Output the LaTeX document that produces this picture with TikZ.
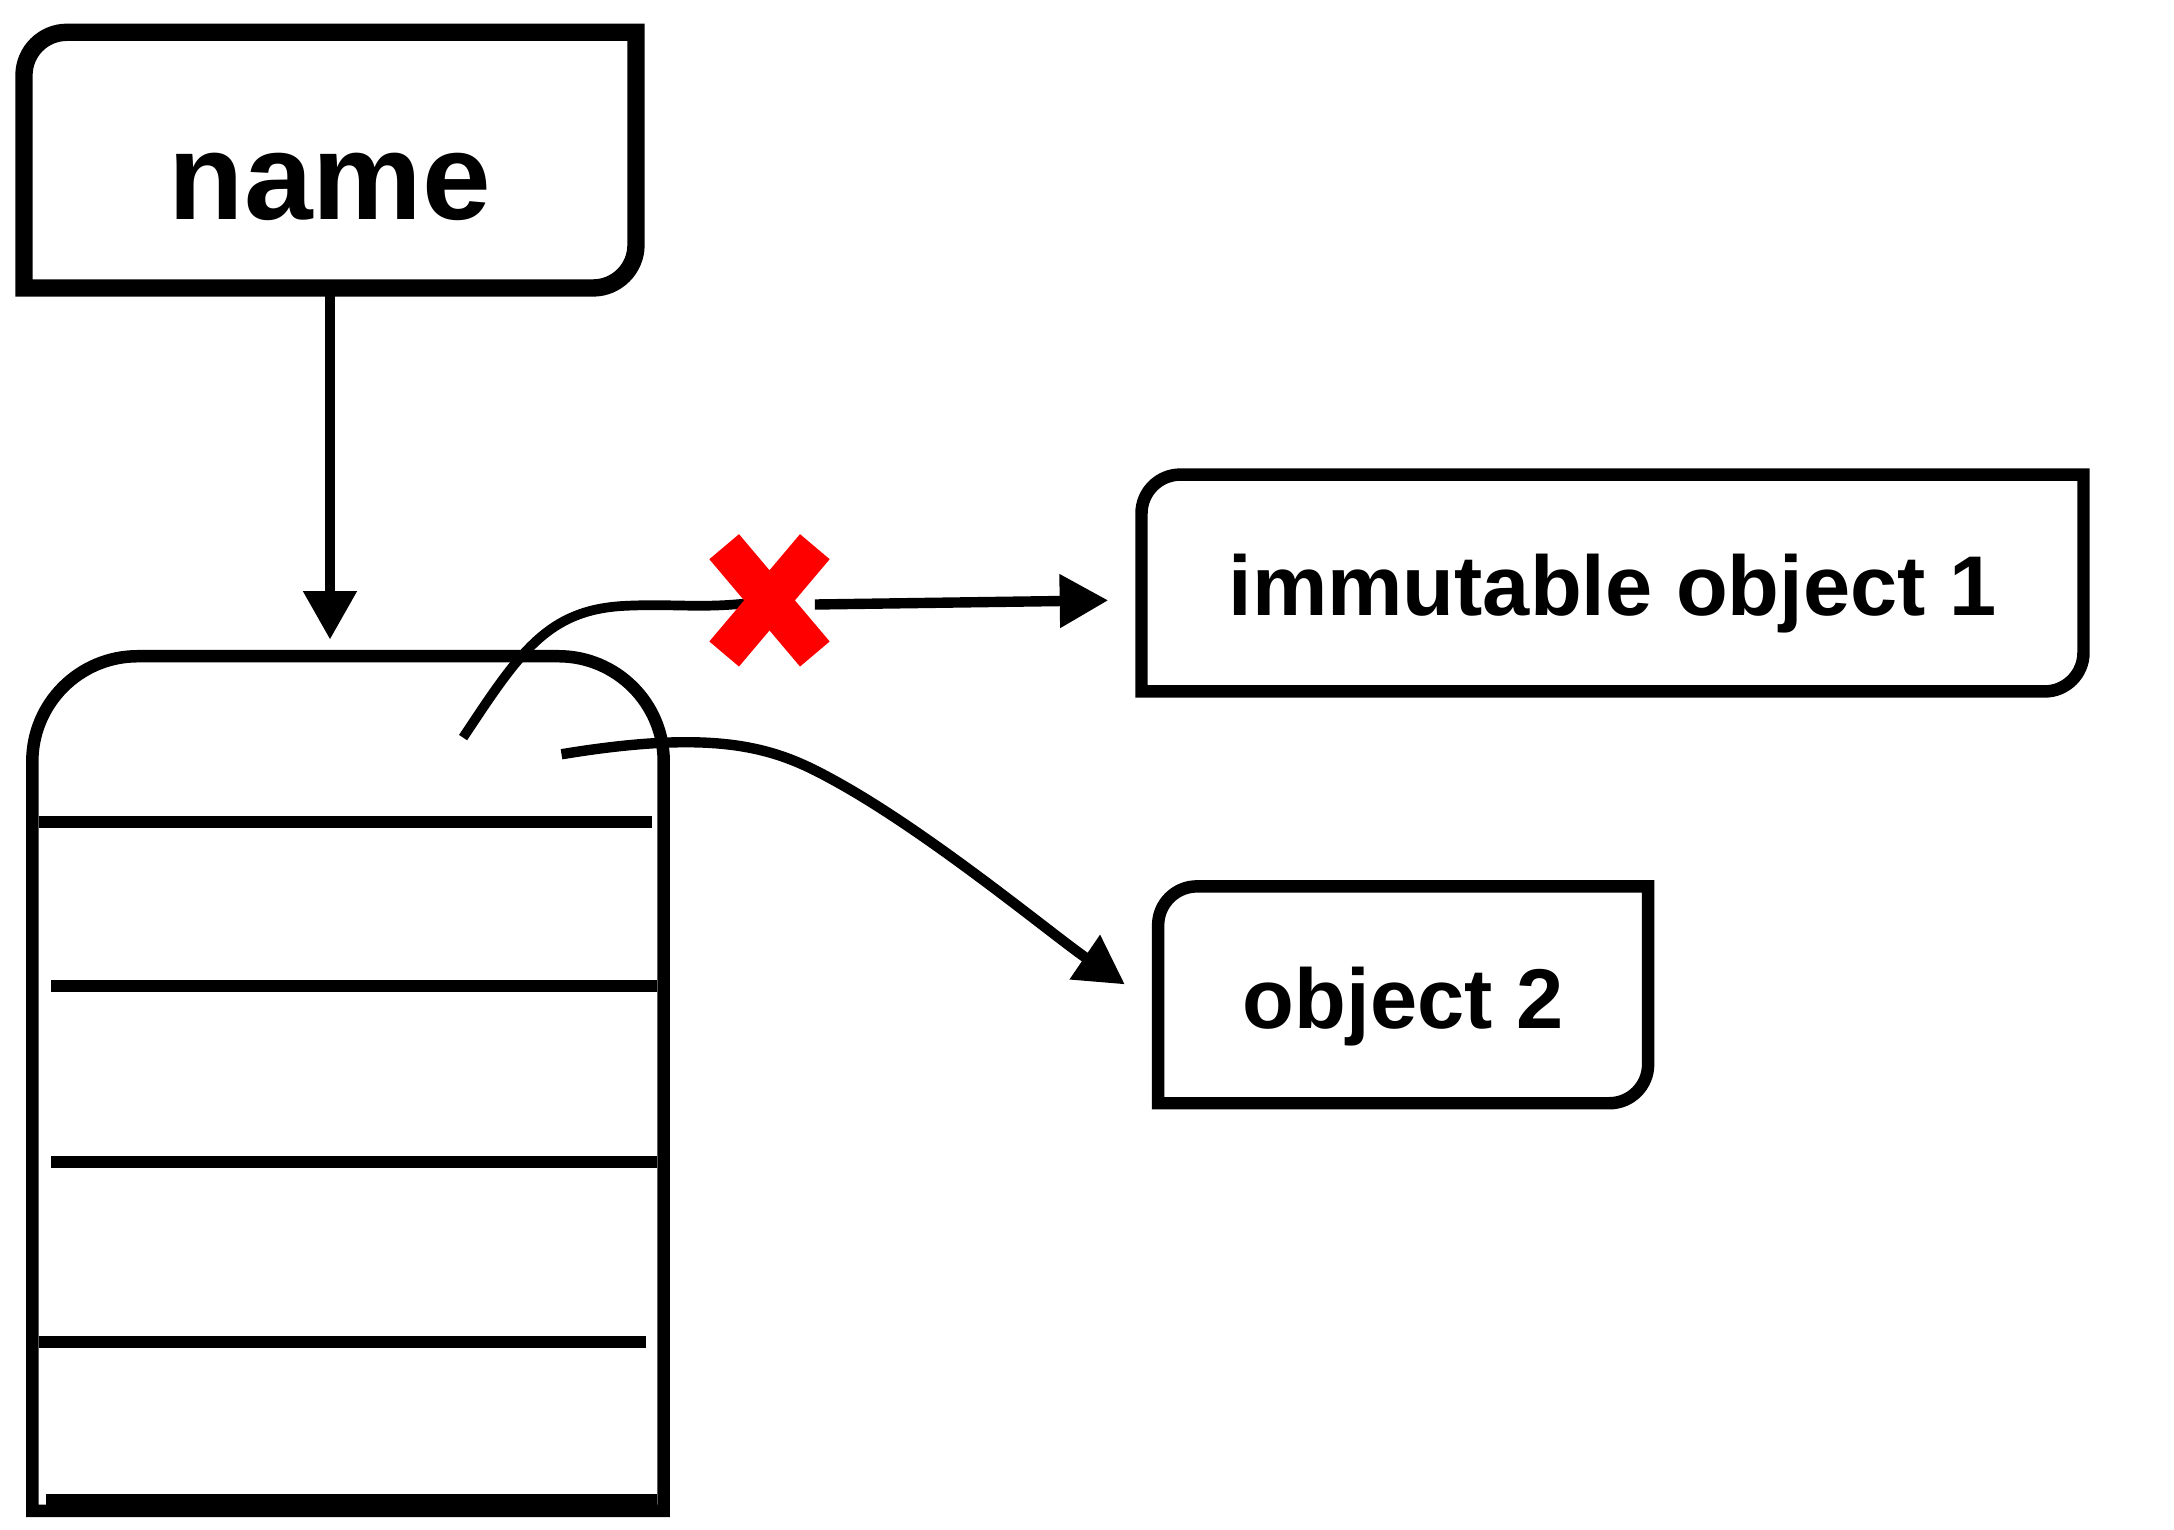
\documentclass[tikz,border=0pt]{standalone}
\usepackage{fontspec}
\setmainfont{Liberation Sans}
\usepackage{tikz}
\usetikzlibrary{arrows.meta}
\newcommand{\halfround}[3][]{%
  \draw[#1] (#2.south west) -- ([yshift=-#3]#2.north west)
    arc[start angle=180,end angle=90,radius=#3] -- (#2.north east)
    -- ([yshift=#3]#2.south east)
    arc[start angle=0,end angle=-90,radius=#3] -- cycle;}

\begin{document}
\begin{tikzpicture}[
    frame/.style={line width=0.09cm},
    slot/.style={line width=0.09cm},
    wire/.style={line width=0.07cm},
    link/.style={line width=0.075cm,-{Triangle[length=0.35cm,width=0.37cm]}},
    nope/.style={red,line width=0.28cm},
    obj/.style={inner sep=0pt,font=\fontsize{17.4}{21}\selectfont\bfseries,text depth=0pt}
]
\useasboundingbox (0,0) rectangle (15.68,-11.03);

\node[obj,minimum width=4.40cm,minimum height=1.83cm,
      font=\fontsize{25.3}{30}\selectfont\bfseries,text height=0.85cm] (name) at (2.38,-1.155) {name};
\halfround[line width=0.125cm]{name}{0.31cm}

\node[inner sep=0pt,minimum width=4.54cm,minimum height=6.15cm] (stack) at (2.51,-7.815) {};
\draw[frame] (stack.south west) -- ([yshift=-0.76cm]stack.north west)
    arc[start angle=180,end angle=90,radius=0.76cm]
    -- ([xshift=-0.76cm]stack.north east)
    arc[start angle=90,end angle=0,radius=0.76cm] -- (stack.south east) -- cycle;
\draw[slot] (0.28,-5.93) -- (4.70,-5.93);
\draw[slot] (0.37,-7.11) -- (4.74,-7.11);
\draw[slot] (0.37,-8.38) -- (4.74,-8.38);
\draw[slot] (0.28,-9.68) -- (4.66,-9.68);
\draw[slot] (0.33,-10.82) -- (4.74,-10.82);

\coordinate (slot1) at (3.34,-5.32);
\coordinate (slot2) at (4.05,-5.44);

\node[obj,minimum width=6.78cm,minimum height=1.55cm,text height=0.47cm] (obj1) at (11.63,-4.205) {immutable object 1};
\halfround[frame]{obj1}{0.28cm}
\node[obj,minimum width=3.52cm,minimum height=1.55cm,text height=0.49cm] (obj2) at (10.12,-7.175) {object 2};
\halfround[frame]{obj2}{0.28cm}

\node[inner sep=0pt,minimum width=0.64cm,minimum height=0.76cm] (cross) at (5.55,-4.33) {};

\draw[link,shorten >=0.12cm] (name.south) -- (name.south |- stack.north);
\draw[wire] (slot1) .. controls (3.75,-4.70) and (3.95,-4.40) .. (4.50,-4.37)
    .. controls (4.90,-4.35) and (5.10,-4.40) .. (cross.center);
\draw[nope] (cross.north west) -- (cross.south east)
    (cross.north east) -- (cross.south west);
\draw[link] ([yshift=-0.03cm]cross.east) -- ([xshift=-0.24cm,yshift=-0.125cm]obj1.west);
\draw[link] (slot2) .. controls (5.20,-5.25) and (5.60,-5.40) .. (6.00,-5.62)
    .. controls (6.70,-6.00) and (7.60,-6.75) .. ([xshift=-0.24cm,yshift=0.075cm]obj2.west);
\end{tikzpicture}
\end{document}
